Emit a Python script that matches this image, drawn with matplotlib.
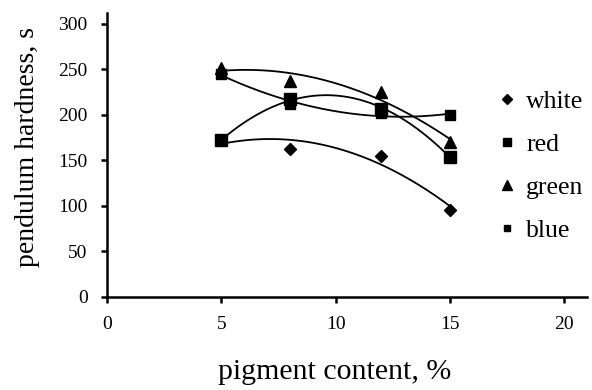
import numpy as np
import matplotlib
matplotlib.use("Agg")
import matplotlib.pyplot as plt

plt.rcParams['font.family'] = ['Liberation Serif', 'DejaVu Serif']

# pigment content, %
pigment = [5, 8, 12, 15]

# pendulum hardness, s
white = [172, 163, 155, 96]
red = [172, 217, 207, 154]
green = [252, 237, 225, 170]
blue = [245, 212, 202, 200]

series_names = ["white", "red", "green", "blue"]
series_values = [white, red, green, blue]
series_markers = ["D", "s", "^", "s"]
series_sizes = [6.5, 8, 8.5, 6.5]

x_ticks = [0, 5, 10, 15, 20]
y_ticks = [0, 50, 100, 150, 200, 250, 300]

fig = plt.figure(figsize=(5.92, 3.90), dpi=100)
ax = fig.add_axes([0.1807, 0.2385, 0.8109, 0.7282])

xs = np.linspace(min(pigment), max(pigment), 200)
for name, vals, mk, ms in zip(series_names, series_values, series_markers, series_sizes):
    # second-order polynomial trend line through each series
    coef = np.polyfit(pigment, vals, 2)
    ax.plot(xs, np.polyval(coef, xs), color="black", lw=1.3, zorder=2)
    ax.plot(pigment, vals, linestyle="none", marker=mk, markersize=ms,
            color="black", zorder=3, label=name)

ax.set_xlim(0, 21)
ax.set_ylim(0, 312)
ax.set_xticks(x_ticks)
ax.set_yticks(y_ticks)
ax.tick_params(direction="out", length=4, width=1.8, labelsize=14)
ax.tick_params(axis="x", pad=10)
ax.tick_params(axis="y", pad=10)

for side in ("top", "right"):
    ax.spines[side].set_visible(False)
for side in ("left", "bottom"):
    ax.spines[side].set_linewidth(1.8)

fig.text(0.566, 0.046, "pigment content, %", ha="center", va="center", fontsize=21.5)
fig.text(0.047, 0.623, "pendulum hardness, s", ha="center", va="center",
         rotation=90, fontsize=20)

leg = ax.legend(loc="upper left", bbox_to_anchor=(0.798, 0.765), frameon=False,
                fontsize=18.5, handlelength=0.5, handletextpad=0.5,
                labelspacing=0.78, borderaxespad=0)
for h, ms in zip(leg.legend_handles, [5.5, 6, 6.5, 5]):
    h.set_markersize(ms)

fig.savefig("out.png", dpi=100)
